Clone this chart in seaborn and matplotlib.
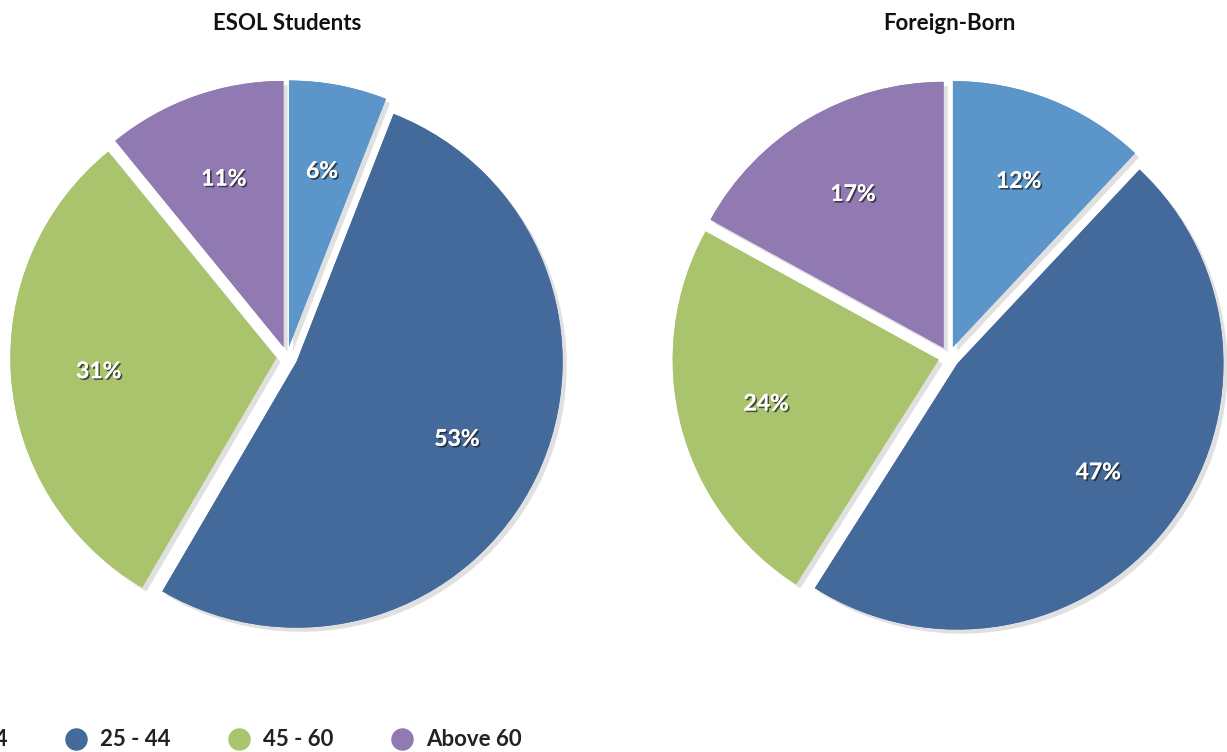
import matplotlib
matplotlib.use('Agg')
import matplotlib.pyplot as plt
import matplotlib.patheffects as pe
import seaborn as sns

# data
age_groups = ['18 - 24', '25 - 44', '45 - 60', 'Above 60']
esol_pct = [6, 53, 31, 11]
foreign_pct = [12, 47, 24, 17]
titles = ['ESOL Students', 'Foreign-Born']

sns.set_style('white')
plt.rcParams['font.family'] = ['Lato', 'DejaVu Sans']

colors = sns.color_palette(['#5B95C9', '#44699B', '#A9C46C', '#9179B2'])

W, H = 1227, 752
fig = plt.figure(figsize=(W / 100, H / 100), dpi=100)

R = 266  # pie radius in px
S = 600  # axes box in px
half = S / 2 / R

text_fx = [pe.withSimplePatchShadow(offset=(1.2, -1.2), shadow_rgbFace='#222222', alpha=0.75), pe.Normal()]
wedge_fx = [pe.withSimplePatchShadow(offset=(3, -3), shadow_rgbFace='#999999', alpha=0.3), pe.Normal()]

centers = [(287, 357), (949, 357)]
for (cx, cy), vals, title in zip(centers, [esol_pct, foreign_pct], titles):
    ax = fig.add_axes([(cx - S / 2) / W, 1 - (cy + S / 2) / H, S / W, S / H])
    wedges, texts = ax.pie(
        vals, colors=colors, startangle=90, counterclock=False,
        explode=[0.04] * len(vals), radius=1,
        labels=[f'{v}%' for v in vals], labeldistance=0.67,
        wedgeprops=dict(linewidth=0),
        textprops=dict(color='white', fontsize=16.5, fontweight='bold'))
    for w in wedges:
        w.set_path_effects(wedge_fx)
    for t in texts:
        t.set_ha('center')
        t.set_va('center')
        t.set_path_effects(text_fx)
    ax.set_xlim(-half, half)
    ax.set_ylim(-half, half)
    ax.set_aspect('equal')
    ax.axis('off')
    fig.text(cx / W, 1 - 23 / H, title, ha='center', va='center',
             fontsize=16, fontweight='bold', color='#111111')

# legend along the bottom (partly off the left edge like the original)
lax = fig.add_axes([0, 0, 1, 1])
lax.set_xlim(0, W)
lax.set_ylim(H, 0)
lax.axis('off')
lax.patch.set_alpha(0)
for i, (lab, c) in enumerate(zip(age_groups, colors)):
    mx = -87 + 163 * i
    lax.scatter([mx], [739], s=230, color=c, clip_on=False)
    lax.text(mx + 24, 739, lab, ha='left', va='center', fontsize=16,
             fontweight='bold', color='#222222', clip_on=False)

fig.savefig('out.png', dpi=100)
